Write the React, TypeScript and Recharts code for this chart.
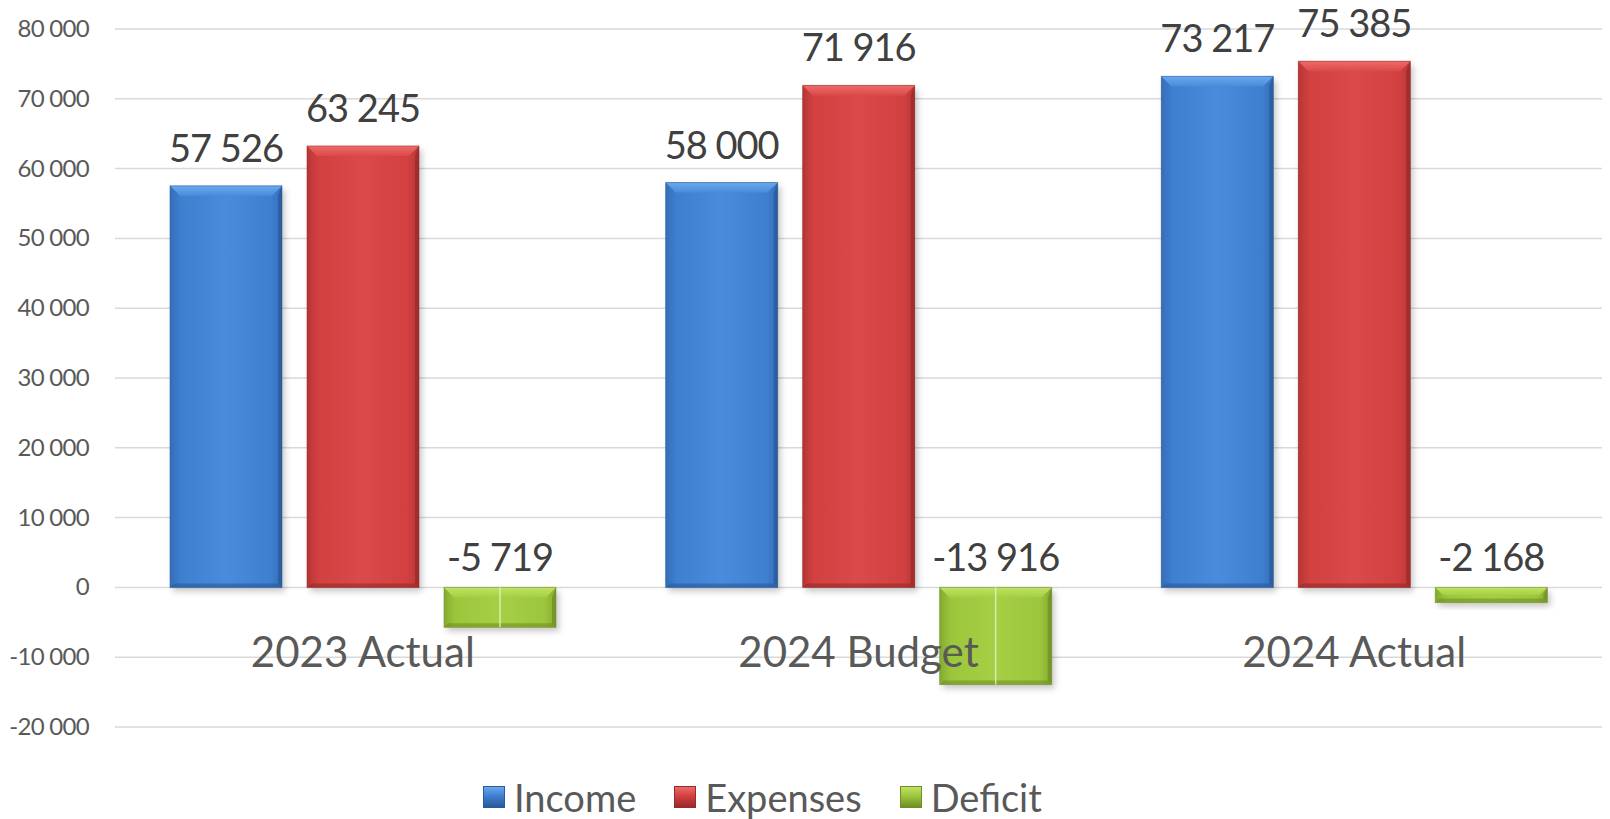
import React from 'react';
import { BarChart, Bar, XAxis, YAxis, CartesianGrid, Legend, LabelList } from 'recharts';

const categories = ['2023 Actual', '2024 Budget', '2024 Actual'];
const income = [57526, 58000, 73217];
const expenses = [63245, 71916, 75385];
const deficit = [-5719, -13916, -2168];
const yTicks = [-20000, -10000, 0, 10000, 20000, 30000, 40000, 50000, 60000, 70000, 80000];
const seriesNames = ['Income', 'Expenses', 'Deficit'];

const data = categories.map((c, i) => ({
  name: c,
  Income: income[i],
  Expenses: expenses[i],
  Deficit: deficit[i],
}));

const fmt = (n: number) => {
  const s = String(Math.abs(Math.round(n))).replace(/\B(?=(\d{3})+(?!\d))/g, ' ');
  return (n < 0 ? '-' : '') + s;
};

type Pal = { id: string; main: string; light: string; top: string; dark: string; edge: string };
const palettes: Record<string, Pal> = {
  Income: { id: 'inc', main: '#3e7fd0', light: '#4a8bdb', top: '#6aa9ee', dark: '#2a5a99', edge: '#356fb8' },
  Expenses: { id: 'exp', main: '#d24040', light: '#da4a4a', top: '#ee6a6a', dark: '#982a2a', edge: '#b83636' },
  Deficit: { id: 'def', main: '#9cc63c', light: '#a6cf44', top: '#c2e264', dark: '#6f8f24', edge: '#86aa30' },
};

const makeShape = (pal: Pal, divider: boolean) => (props: any) => {
  const { x, y, width, height } = props;
  if (width == null || height == null || height === 0) return <g />;
  const top = height < 0 ? y + height : y;
  const h = Math.abs(height);
  const w = width;
  const b = Math.min(10, h / 2, w / 2);
  const s = Math.min(4, h / 3);
  return (
    <g>
      <rect x={x + 3} y={top + 4} width={w} height={h} fill="rgba(0,0,0,0.22)" filter="url(#shBlur)" />
      <rect x={x} y={top} width={w} height={h} fill={`url(#body-${pal.id})`} />
      <polygon
        points={`${x},${top} ${x + w},${top} ${x + w - b},${top + b} ${x + b},${top + b}`}
        fill={`url(#top-${pal.id})`}
      />
      <polygon
        points={`${x + w},${top} ${x + w},${top + h} ${x + w - s},${top + h - s} ${x + w - s},${top + Math.min(b, h - s)}`}
        fill={pal.dark}
        opacity={0.75}
      />
      <polygon
        points={`${x},${top + h} ${x + w},${top + h} ${x + w - s},${top + h - s} ${x + s},${top + h - s}`}
        fill={pal.dark}
        opacity={0.6}
      />
      <polygon
        points={`${x},${top} ${x},${top + h} ${x + s * 0.6},${top + h - s * 0.6} ${x + s * 0.6},${top + Math.min(b, h - s)}`}
        fill={pal.edge}
        opacity={0.6}
      />
      <rect x={x} y={top} width={w} height={h} fill="none" stroke={pal.dark} strokeOpacity={0.5} strokeWidth={1} />
      {divider && h > 20 ? (
        <line x1={x + w / 2} y1={top} x2={x + w / 2} y2={top + h} stroke="#e8f2d0" strokeWidth={1.5} strokeOpacity={0.8} />
      ) : null}
    </g>
  );
};

const ValueLabel = (props: any) => {
  const { x, y, width, height, value } = props;
  const top = height < 0 ? y + height : y;
  const gap = value < 0 ? 16 : 24;
  return (
    <text
      x={x + width / 2}
      y={top - gap}
      textAnchor="middle"
      fontFamily="Lato"
      fontSize={38}
      fill="#404040"
      letterSpacing={-1}
    >
      {fmt(value)}
    </text>
  );
};

const YTick = (props: any) => {
  const { x, y, payload } = props;
  return (
    <text x={x} y={y} dy={8} textAnchor="end" fontFamily="Lato" fontSize={24} fill="#595959" letterSpacing={-0.7}>
      {fmt(payload.value)}
    </text>
  );
};

const XTick = (props: any) => {
  const { x, y, payload } = props;
  return (
    <text x={x} y={y - 60} textAnchor="middle" fontFamily="Lato" fontSize={42} fill="#595959">
      {payload.value}
    </text>
  );
};

const LegendContent = () => (
  <div
    style={{
      display: 'flex',
      alignItems: 'center',
      height: 60,
      paddingLeft: 483,
      fontFamily: 'Lato',
      fontSize: 38,
      color: '#595959',
      lineHeight: 1,
    }}
  >
    {seriesNames.map((n) => {
      const p = palettes[n];
      return (
        <div key={n} style={{ display: 'flex', alignItems: 'center', marginRight: 38 }}>
          <div
            style={{
              width: 22,
              height: 22,
              marginRight: 9,
              boxSizing: 'border-box',
              background: `linear-gradient(to bottom, ${p.top} 0%, ${p.main} 45%, ${p.dark} 100%)`,
              border: `1px solid ${p.dark}`,
            }}
          />
          <span>{n}</span>
        </div>
      );
    })}
  </div>
);

export default function App() {
  return (
    <div style={{ position: 'absolute', left: 0, top: 0, width: 1610, height: 819, background: '#ffffff' }}>
      <BarChart
        width={1610}
        height={819}
        data={data}
        margin={{ top: 29, right: 8, bottom: 0, left: 0 }}
        barCategoryGap={55}
        barGap={25}
      >
        <defs>
          <filter id="shBlur" x="-20%" y="-20%" width="140%" height="140%">
            <feGaussianBlur stdDeviation="3" />
          </filter>
          {seriesNames.map((n) => {
            const p = palettes[n];
            return (
              <React.Fragment key={n}>
                <linearGradient id={`body-${p.id}`} x1="0" y1="0" x2="1" y2="0">
                  <stop offset="0%" stopColor={p.edge} />
                  <stop offset="10%" stopColor={p.main} />
                  <stop offset="50%" stopColor={p.light} />
                  <stop offset="90%" stopColor={p.main} />
                  <stop offset="100%" stopColor={p.edge} />
                </linearGradient>
                <linearGradient id={`top-${p.id}`} x1="0" y1="0" x2="0" y2="1">
                  <stop offset="0%" stopColor={p.top} />
                  <stop offset="100%" stopColor={p.light} />
                </linearGradient>
              </React.Fragment>
            );
          })}
        </defs>
        <CartesianGrid vertical={false} stroke="#d9d9d9" strokeWidth={1.5} />
        <XAxis
          dataKey="name"
          axisLine={false}
          tickLine={false}
          tickSize={0}
          tickMargin={0}
          height={40}
          tick={<XTick />}
          interval={0}
        />
        <YAxis
          type="number"
          domain={[-20000, 80000]}
          ticks={yTicks}
          interval={0}
          axisLine={false}
          tickLine={false}
          tickSize={0}
          tickMargin={26}
          width={115}
          tick={<YTick />}
        />
        <Legend verticalAlign="bottom" height={52} wrapperStyle={{ left: 0, width: 1610 }} content={<LegendContent />} />
        <Bar dataKey="Income" fill={palettes.Income.main} isAnimationActive={false} shape={makeShape(palettes.Income, false)}>
          <LabelList dataKey="Income" content={<ValueLabel />} />
        </Bar>
        <Bar dataKey="Expenses" fill={palettes.Expenses.main} isAnimationActive={false} shape={makeShape(palettes.Expenses, false)}>
          <LabelList dataKey="Expenses" content={<ValueLabel />} />
        </Bar>
        <Bar dataKey="Deficit" fill={palettes.Deficit.main} isAnimationActive={false} shape={makeShape(palettes.Deficit, true)}>
          <LabelList dataKey="Deficit" content={<ValueLabel />} />
        </Bar>
      </BarChart>
    </div>
  );
}
